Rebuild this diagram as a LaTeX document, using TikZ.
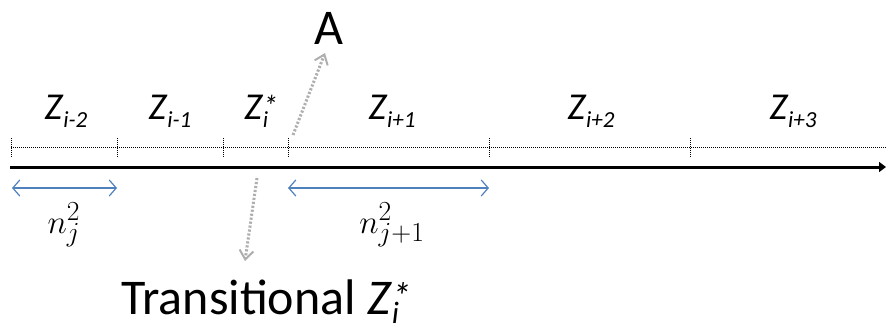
\documentclass[tikz,border=0pt]{standalone}
\usepackage{graphicx}
\usepackage{fontspec}
\setmainfont{Carlito}
\usetikzlibrary{arrows.meta}
\definecolor{officeblue}{RGB}{79,129,189}
\definecolor{dotgray}{RGB}{175,175,175}
\newcommand{\zsub}[1]{{\itshape Z\kern0.02em\raisebox{-0.19em}{\fontsize{23}{23}\selectfont #1}}}
\newcommand{\bigmath}[1]{\scalebox{1.33}{$#1$}}
\begin{document}
\begin{tikzpicture}[x=1pt,y=-1pt,
  zstyle/.style={anchor=base,inner sep=0pt,font=\fontsize{38}{40}\selectfont},
  nstyle/.style={anchor=base,inner sep=0pt,font=\fontsize{24.88}{30}\selectfont},
  bigtext/.style={anchor=base,inner sep=0pt,font=\fontsize{50}{52}\selectfont},
  tick/.style={line width=1pt,dash pattern=on 1pt off 1pt},
  gline/.style={dotgray,line width=3pt,dash pattern=on 2.2pt off 1.8pt,-{Straight Barb[length=9pt,width=14pt,line width=2pt]}},
  barrow/.style={officeblue,line width=1.4pt,{Straight Barb[length=7pt,width=16pt,line width=1.2pt]}-{Straight Barb[length=7pt,width=16pt,line width=1.2pt]}}
]
\useasboundingbox (0,0) rectangle (886,326);
% axis
\coordinate (ax0) at (10,167);
\coordinate (ax1) at (886,167);
\draw[line width=3pt,-{Triangle[length=7pt,width=10pt]}] (ax0) -- (ax1);
% dotted line
\coordinate (d0) at (11,148);
\coordinate (d1) at (886,148);
\draw[tick] (d0) -- (d1);
% ticks
\foreach \x/\n in {11/t0,117/t1,223/t2,288/t3,489/t4,690/t5}{
  \coordinate (\n a) at (\x,138);
  \coordinate (\n b) at (\x,158);
  \draw[tick] (\n a) -- (\n b);
}
% Z labels
\node[zstyle] (z1) at (66,120) {\zsub{i-2}};
\node[zstyle] (z2) at (170,120) {\zsub{i-1}};
\node[zstyle] (z3) at (262,120) {{\itshape Z\kern0.02em\rlap{\raisebox{0.1em}{\fontsize{30}{30}\selectfont *}}\raisebox{-0.19em}{\fontsize{23}{23}\selectfont i}}\kern0.3em};
\node[zstyle] (z4) at (392,120) {\zsub{i+1}};
\node[zstyle] (z5) at (591,120) {\zsub{i+2}};
\node[zstyle] (z6) at (793,120) {\zsub{i+3}};
% A
\node[bigtext] (A) at (329,45) {A};
\coordinate (ua) at (293,135);
\coordinate (ub) at (325,53);
\draw[gline] (ua) -- (ub);
% Transitional
\node[bigtext,anchor=base west] (tr) at (121,314) {Transitional {\itshape Z\kern0.02em\rlap{\raisebox{0.1em}{\fontsize{38}{38}\selectfont *}}\raisebox{-0.19em}{\fontsize{31}{31}\selectfont i}}};
\coordinate (da) at (257,178);
\coordinate (db) at (245,261);
\draw[gline] (da) -- (db);
% blue arrows
\coordinate (b1a) at (12,188);
\coordinate (b1b) at (117,188);
\coordinate (b2a) at (288,188);
\coordinate (b2b) at (489,188);
\draw[barrow] (b1a) -- (b1b);
\draw[barrow] (b2a) -- (b2b);
\node[nstyle] (n1) at (64,233) {\bigmath{n_j^2}};
\node[nstyle] (n2) at (392,233) {\bigmath{n_{j+1}^2}};
\end{tikzpicture}
\end{document}
